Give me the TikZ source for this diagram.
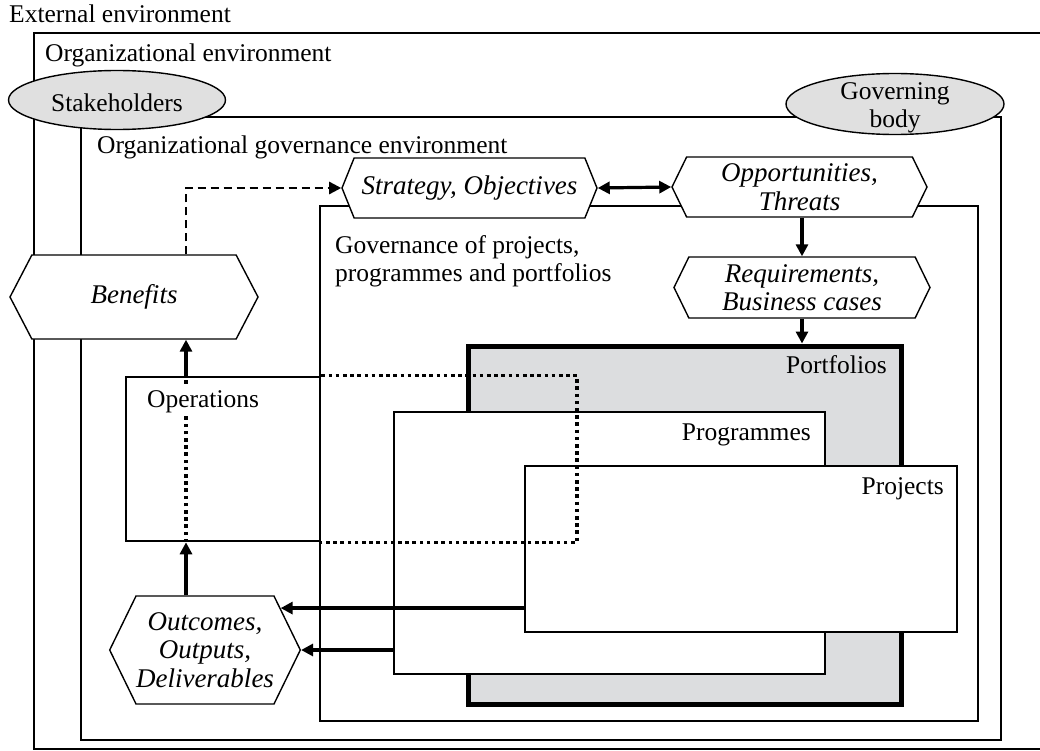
\documentclass[tikz,border=0pt]{standalone}
\usepackage{fontspec}
\setmainfont{Liberation Serif}
\usepackage{tikz}
\usetikzlibrary{shapes,arrows.meta,calc,positioning}
\definecolor{boxgray}{RGB}{220,221,223}
\definecolor{ovalgray}{RGB}{224,224,224}
\newcommand{\diagfont}{\fontsize{25.5bp}{28.5bp}\selectfont}
\newcommand{\hexafont}{\fontsize{27bp}{28.5bp}\selectfont\itshape}
\tikzset{
    auto,semithick,
    env/.style ={rectangle, draw, line width=2.6bp, inner sep=0pt},
    hexa/.style ={signal, signal to=east and west, signal pointer angle=128, draw, line width=1.4bp,
        fill=white, inner sep=0pt, align=center, font=\hexafont},
    oval/.style ={ellipse, draw, line width=1.4bp, fill=ovalgray, inner sep=0pt},
    tag/.style = {inner sep=0pt, font=\diagfont},
    flow/.style={-{Triangle[length=12bp,width=12bp]}, line width=3.2bp},
    dotline/.style={line width=3.4bp, dash pattern=on 3.6bp off 3.6bp}
}
\begin{document}
\begin{tikzpicture}[x=1bp,y=-1bp]
            \useasboundingbox (0,0) rectangle (1040,751);
            % Nested environments
            \node[env,minimum width=1036bp,minimum height=716bp] (orgenv) at (552,391) {};
            \node[env,minimum width=920bp,minimum height=623bp] (orggov) at (541,428.5) {};
            \node[env,minimum width=658bp,minimum height=515bp] (govppp) at (649,463.5) {};
            \node[env,line width=5bp,fill=boxgray,minimum width=433bp,minimum height=358bp] (portfolios) at (684.5,525) {};
            \node[env,fill=white,minimum width=431bp,minimum height=262bp] (programmes) at (609.5,543) {};
            \node[env,fill=white,minimum width=432bp,minimum height=166bp] (projects) at (741,549) {};
            \node[env,minimum width=194bp,minimum height=164bp] (operations) at (223,459) {};
            \coordinate (spine) at (186,0);
            \coordinate (dotend) at (577,459);
            % Labels of the boxes
            \node[tag,anchor=base west] (extlabel) at (9,23) {External environment};
            \node[tag,anchor=base west] (orglabel) at (45,62) {Organizational environment};
            \node[tag,anchor=base west] (govlabel) at (97,153) {Organizational governance environment};
            \node[tag,anchor=north west,align=left] (ppplabel) at (335,235) {Governance of projects,\\programmes and portfolios};
            \node[tag,anchor=base east] (portlabel) at (887,373) {Portfolios};
            \node[tag,anchor=base east] (proglabel) at (811,440) {Programmes};
            \node[tag,anchor=base east] (projlabel) at (944,494) {Projects};
            % Hexagons
            \node[hexa,signal pointer angle=136,minimum width=255bp,minimum height=60bp] (strategy) at (469.5,188) {Strategy, Objectives};
            \node[hexa,minimum width=255bp,minimum height=60bp] (opportunities) at (799.5,187) {Opportunities,\\Threats};
            \node[hexa,minimum width=256bp,minimum height=61bp] (requirements) at (802,287.5) {Requirements,\\Business cases};
            \node[hexa,signal pointer angle=125,minimum width=248bp,minimum height=84bp] (benefits) at (134,297) {Benefits};
            \node[hexa,minimum width=186bp,minimum height=108bp] (outcomes) at (205,650) {Outcomes,\\Outputs,\\Deliverables};
            % Stakeholders and governing body
            \node[oval,minimum width=217bp,minimum height=59bp] (stakeholders) at (117,100) {};
            \node[tag] (stakelabel) at (117,103) {Stakeholders};
            \node[oval,minimum width=218bp,minimum height=61bp] (governing) at (895,104) {};
            \node[tag,align=center] (govbody) at (895,108) {Governing\\body};
            % Draw the flows
            \draw[flow,dash pattern=on 8bp off 5bp,line width=2.4bp] (benefits.north -| spine) |- (strategy.west);
            \draw[flow,{Triangle[length=12bp,width=12bp]}-{Triangle[length=12bp,width=12bp]}] (strategy.east) -- (opportunities.west);
            \draw[flow] (requirements.north |- opportunities.south) -- (requirements.north);
            \draw[flow] (requirements.south) -- (requirements.south |- portfolios.north);
            \draw[flow] (outcomes.north -| spine) -- (operations.south -| spine);
            \draw[flow] (operations.north -| spine) -- (benefits.south -| spine);
            \draw[flow] (outcomes.29 -| projects.west) -- (outcomes.29);
            \draw[flow] (outcomes.east -| programmes.west) -- (outcomes.east);
            % Operations reaching into the governance box
            \draw[dotline] (operations.south -| spine) -- (operations.north -| spine);
            \draw[dotline] (operations.north east) -| (dotend) |- (operations.south east);
            \node[tag,fill=white,inner sep=2bp,anchor=base west] (opslabel) at (145,407) {Operations};
\end{tikzpicture}
\end{document}
